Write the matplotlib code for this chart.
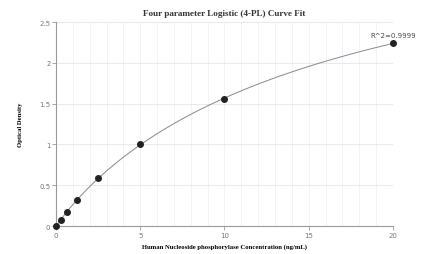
import numpy as np
from matplotlib import pyplot as plt

conc = [0, 0.3125, 0.625, 1.25, 2.5, 5, 10, 20]
od = [0.0, 0.07, 0.17, 0.32, 0.59, 1.0, 1.56, 2.24]
x_ticks = [0, 5, 10, 15, 20]
y_ticks = [0, 0.5, 1, 1.5, 2, 2.5]
y_tick_labels = ['0', '0.5', '1', '1.5', '2', '2.5']


def fit4pl(x, y):
    # crude 4PL fit: grid over b, c; solve a, d linearly
    x = np.asarray(x, float)
    y = np.asarray(y, float)
    best = None
    for b in np.linspace(0.5, 2.0, 151):
        for c in np.logspace(0, 3, 301):
            g = 1.0 / (1.0 + (x / c) ** b)
            A = np.column_stack([g, 1 - g])
            coef, *_ = np.linalg.lstsq(A, y, rcond=None)
            err = np.sum((A @ coef - y) ** 2)
            if best is None or err < best[0]:
                best = (err, coef[0], b, c, coef[1])
    return best[1:]


a, b, c, d = fit4pl(conc, od)
X = np.linspace(0, 20, 300)
Y = d + (a - d) / (1 + (X / c) ** b)

fig = plt.figure(figsize=(4.23, 2.55), dpi=100)
ax = fig.add_axes([0.1324, 0.1098, 0.7966, 0.8])

ax.plot(X, Y, color='#888888', lw=0.7, zorder=2)
ax.scatter(conc, od, s=16, color='#222222', zorder=3, clip_on=False)

ax.set_xlim(0, 20)
ax.set_ylim(0, 2.5)
ax.set_xticks(np.arange(0, 21, 1), minor=True)
ax.set_xticks(x_ticks)
ax.set_yticks(y_ticks)
ax.set_yticklabels(y_tick_labels)
ax.grid(True, which='both', axis='x', color='#f0f1f7', lw=0.6)
ax.grid(True, which='major', axis='y', color='#e3e5f0', lw=0.6)
ax.set_axisbelow(True)
ax.tick_params(which='minor', length=0)
ax.tick_params(which='major', length=3, width=0.6, color='#999999',
               labelsize=5, labelcolor='#777777', pad=1)
for s in ['top', 'right']:
    ax.spines[s].set_visible(False)
for s in ['left', 'bottom']:
    ax.spines[s].set_color('#999999')
    ax.spines[s].set_linewidth(0.8)

ax.annotate('R^2=0.9999', (conc[-1], od[-1]), xytext=(0, 4),
            textcoords='offset points', ha='center', va='bottom',
            fontsize=5, color='#444444')

ax.set_title('Four parameter Logistic (4-PL) Curve Fit',
             family='Liberation Serif', fontweight='bold', fontsize=6.6,
             color='#333333', pad=5)
ax.set_xlabel('Human Nucleoside phosphorylase Concentration (ng/mL)',
              family='Liberation Serif', fontweight='bold', fontsize=4.8,
              labelpad=4)
ax.set_ylabel('Optical Density', family='Liberation Serif',
              fontweight='bold', fontsize=4.8, labelpad=12)

plt.savefig('out.png', dpi=100)
